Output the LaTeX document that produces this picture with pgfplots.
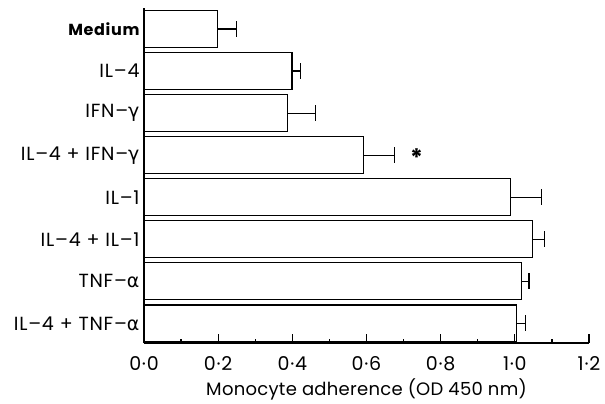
\documentclass[border=0pt]{standalone}
\usepackage{fontspec}
\setmainfont{Poppins}[LetterSpace=4]
\newfontfamily\plain{Poppins}[LetterSpace=1.5]
\newfontfamily\dejavu{DejaVu Sans}
\usepackage{pgfplots}
\pgfplotsset{compat=1.18}
\newcommand{\ga}{{\dejavu γ}}
\newcommand{\al}{{\dejavu α}}
\begin{document}
\begin{tikzpicture}
\begin{axis}[
  scale only axis,
  width=445pt, height=335pt,
  xbar, bar width=37pt,
  xmin=0, xmax=1.2, ymin=-0.465, ymax=7.5,
  axis on top,
  axis x line*=bottom, axis y line*=left,
  x axis line style={line width=2.4pt},
  y axis line style={line width=1.8pt},
  xtick={0,0.2,0.4,0.6,0.8,1.0,1.2},
  xticklabels={0·0,0·2,0·4,0·6,0·8,1·0,1·2},
  minor xtick={0.1,0.3,0.5,0.7,0.9,1.1},
  ytick={0,1,2,3,4,5,6,7},
  yticklabels={IL–4 + TNF–\al, TNF–\al, IL–4 + IL–1, IL–1, IL–4 + IFN–\ga, IFN–\ga, IL–4, {\fontsize{16}{18}\selectfont\bfseries Medium}},
  y tick style={draw=none},
  x tick style={line width=1.2pt, black},
  tick align=inside,
  major tick length=9pt, minor tick length=4.5pt,
  ticklabel style={font=\fontsize{19}{21}\selectfont},
  xticklabel style={yshift=-10pt},
  yticklabel style={xshift=-1pt},
  xlabel={Monocyte adherence (OD 450 nm)},
  xlabel style={font=\plain\fontsize{18}{20}\selectfont, yshift=-1pt},
  clip=false,
]
\addplot[fill=white, draw=black, line width=1.2pt,
  error bars/.cd, x dir=plus, x explicit, error mark=|,
  error bar style={line width=1.2pt},
  error mark options={line width=1.2pt, mark size=8pt, black}]
coordinates {
 (1.004,0) +- (0.025,0)
 (1.018,1) +- (0.020,0)
 (1.047,2) +- (0.034,0)
 (0.989,3) +- (0.083,0)
 (0.591,4) +- (0.085,0)
 (0.386,5) +- (0.077,0)
 (0.399,6) +- (0.024,0)
 (0.199,7) +- (0.051,0)
};
\node[font=\fontsize{24}{26}\selectfont\bfseries] at (axis cs:0.735,3.95) {*};
\end{axis}
\path (current axis.south west) ++(-144pt,-53pt);
\path (current axis.north east) ++(16pt,8pt);
\end{tikzpicture}
\end{document}
